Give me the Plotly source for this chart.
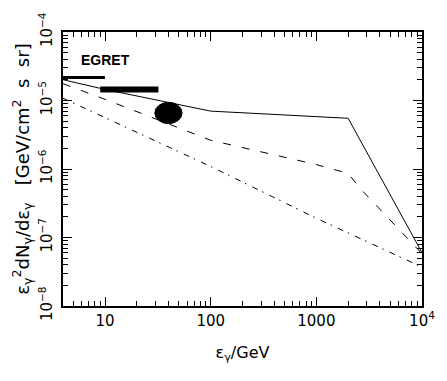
import numpy as np
import plotly.graph_objects as go

# photon energies (GeV) where each model curve has a node
energy_solid = [4, 10, 100, 2000, 10000]
flux_solid = [2.01e-5, 1.45e-5, 7.0e-6, 5.5e-6, 6.0e-8]

energy_dashed = [4, 10, 100, 1000, 2000, 2600, 10000]
flux_dashed = [1.76e-5, 1.04e-5, 2.63e-6, 1.16e-6, 8.6e-7, 5.2e-7, 5.8e-8]

energy_dashdot = [4, 10, 100, 1000, 10000]
flux_dashdot = [1.08e-5, 5.6e-6, 1.09e-6, 1.91e-7, 3.7e-8]

# EGRET measurements drawn as horizontal bars
egret_thin_e = [4, 10]
egret_thin_f = [2.16e-5, 2.16e-5]
egret_thick_e = [9, 32]
egret_thick_f = [1.45e-5, 1.45e-5]

# the black blob (energy and flux extent)
blob_e = [29.6, 53.6]
blob_f = [4.6e-6, 9.4e-6]

xticks = [10, 100, 1000, 10000]
xticktext = ["10", "100", "1000", "10<sup>4</sup>"]
yticks = [1e-8, 1e-7, 1e-6, 1e-5, 1e-4]
yticktext = ["10<sup>\u22128</sup>", "10<sup>\u22127</sup>", "10<sup>\u22126</sup>",
             "10<sup>\u22125</sup>", "10<sup>\u22124</sup>"]

sp = "\u00a0"

fig = go.Figure()

fig.add_trace(go.Scatter(x=energy_solid, y=flux_solid, mode="lines",
                         line=dict(color="black", width=1)))
fig.add_trace(go.Scatter(x=energy_dashed, y=flux_dashed, mode="lines",
                         line=dict(color="black", width=1, dash="8px,11px")))
fig.add_trace(go.Scatter(x=energy_dashdot, y=flux_dashdot, mode="lines",
                         line=dict(color="black", width=1, dash="6px,5px,1.5px,6.5px")))

fig.add_trace(go.Scatter(x=egret_thin_e, y=egret_thin_f, mode="lines",
                         line=dict(color="black", width=3)))
fig.add_trace(go.Scatter(x=egret_thick_e, y=egret_thick_f, mode="lines",
                         line=dict(color="black", width=6)))

fig.add_shape(type="circle", xref="x", yref="y",
              x0=blob_e[0], x1=blob_e[1], y0=blob_f[0], y1=blob_f[1],
              fillcolor="black", line=dict(color="black", width=1))

fig.add_annotation(x=np.log10(10), y=np.log10(3.9e-5), text="<b>EGRET</b>",
                   showarrow=False, font=dict(size=14, color="black",
                                              family="Liberation Sans"))

# minor ticks at 2..9 in every decade
xminor = [m * 10 ** k for k in range(0, 4) for m in range(2, 10)]
yminor = [m * 10.0 ** k for k in range(-8, -4) for m in range(2, 10)]

fig.update_xaxes(type="log", range=[np.log10(4), 4],
                 tickvals=xticks, ticktext=xticktext,
                 ticks="inside", ticklen=9, tickwidth=1, tickcolor="black",
                 minor=dict(tickvals=xminor, ticks="inside", ticklen=5,
                            tickcolor="black", showgrid=False),
                 showline=True, linecolor="black", linewidth=1.5, mirror="ticks",
                 showgrid=False, zeroline=False,
                 tickfont=dict(size=15, color="black"),
                 title=dict(text="\u03b5<sub>\u03b3</sub>/GeV",
                            font=dict(size=16, color="black"), standoff=18))

fig.update_yaxes(type="log", range=[-8, -4],
                 tickvals=yticks, ticktext=yticktext, tickangle=-90,
                 ticks="inside", ticklen=9, tickwidth=1, tickcolor="black",
                 minor=dict(tickvals=yminor, ticks="inside", ticklen=5,
                            tickcolor="black", showgrid=False),
                 showline=True, linecolor="black", linewidth=1.5, mirror="ticks",
                 showgrid=False, zeroline=False, ticklabelstandoff=3,
                 tickfont=dict(size=15, color="black"),
                 title=dict(text="\u03b5<sub>\u03b3</sub><sup>2</sup>dN<sub>\u03b3</sub>/d\u03b5<sub>\u03b3</sub>"
                                 + sp * 3 + "[GeV/cm<sup>2</sup>" + sp * 2 + "s" + sp * 2 + "sr]",
                            font=dict(size=18, color="black"), standoff=2))

fig.update_layout(width=447, height=381,
                  margin=dict(l=63, r=18, t=25, b=75),
                  showlegend=False,
                  plot_bgcolor="white", paper_bgcolor="white",
                  font=dict(family="DejaVu Sans", color="black"))

fig.write_html("out.html", config={"displayModeBar": False},
               post_script="document.body.style.margin='0';")
